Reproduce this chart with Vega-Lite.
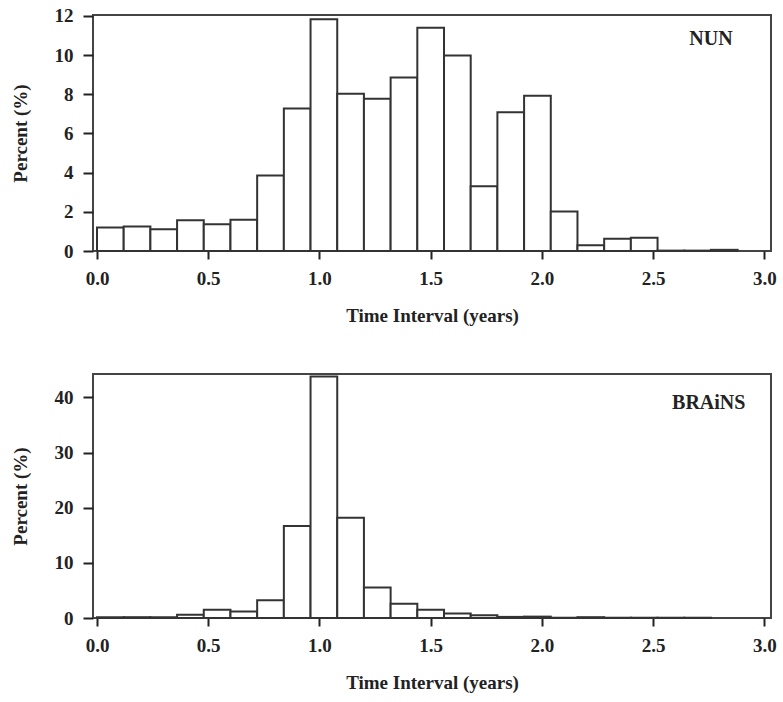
{
  "$schema": "https://vega.github.io/schema/vega-lite/v6.json",
  "background": "white",
  "padding": {"left": 10, "top": 5, "right": 5, "bottom": 5},
  "spacing": 47,
  "datasets": {
    "nun": [
      {"start": 0.00, "end": 0.12, "pct": 1.20},
      {"start": 0.12, "end": 0.24, "pct": 1.25},
      {"start": 0.24, "end": 0.36, "pct": 1.11},
      {"start": 0.36, "end": 0.48, "pct": 1.57},
      {"start": 0.48, "end": 0.60, "pct": 1.37},
      {"start": 0.60, "end": 0.72, "pct": 1.60},
      {"start": 0.72, "end": 0.84, "pct": 3.85},
      {"start": 0.84, "end": 0.96, "pct": 7.27},
      {"start": 0.96, "end": 1.08, "pct": 11.83},
      {"start": 1.08, "end": 1.20, "pct": 8.03},
      {"start": 1.20, "end": 1.32, "pct": 7.78},
      {"start": 1.32, "end": 1.44, "pct": 8.86},
      {"start": 1.44, "end": 1.56, "pct": 11.40},
      {"start": 1.56, "end": 1.68, "pct": 9.98},
      {"start": 1.68, "end": 1.80, "pct": 3.30},
      {"start": 1.80, "end": 1.92, "pct": 7.09},
      {"start": 1.92, "end": 2.04, "pct": 7.93},
      {"start": 2.04, "end": 2.16, "pct": 2.02},
      {"start": 2.16, "end": 2.28, "pct": 0.29},
      {"start": 2.28, "end": 2.40, "pct": 0.63},
      {"start": 2.40, "end": 2.52, "pct": 0.68},
      {"start": 2.52, "end": 2.64, "pct": 0.02},
      {"start": 2.64, "end": 2.76, "pct": 0.02},
      {"start": 2.76, "end": 2.88, "pct": 0.06}
    ],
    "brains": [
      {"start": 0.00, "end": 0.12, "pct": 0.15},
      {"start": 0.12, "end": 0.24, "pct": 0.15},
      {"start": 0.24, "end": 0.36, "pct": 0.15},
      {"start": 0.36, "end": 0.48, "pct": 0.6},
      {"start": 0.48, "end": 0.60, "pct": 1.5},
      {"start": 0.60, "end": 0.72, "pct": 1.2},
      {"start": 0.72, "end": 0.84, "pct": 3.2},
      {"start": 0.84, "end": 0.96, "pct": 16.7},
      {"start": 0.96, "end": 1.08, "pct": 43.8},
      {"start": 1.08, "end": 1.20, "pct": 18.2},
      {"start": 1.20, "end": 1.32, "pct": 5.55},
      {"start": 1.32, "end": 1.44, "pct": 2.6},
      {"start": 1.44, "end": 1.56, "pct": 1.5},
      {"start": 1.56, "end": 1.68, "pct": 0.8},
      {"start": 1.68, "end": 1.80, "pct": 0.5},
      {"start": 1.80, "end": 1.92, "pct": 0.2},
      {"start": 1.92, "end": 2.04, "pct": 0.25},
      {"start": 2.04, "end": 2.16, "pct": 0.05},
      {"start": 2.16, "end": 2.28, "pct": 0.15},
      {"start": 2.28, "end": 2.40, "pct": 0.05},
      {"start": 2.40, "end": 2.52, "pct": 0.05},
      {"start": 2.52, "end": 2.64, "pct": 0.05},
      {"start": 2.64, "end": 2.76, "pct": 0.05}
    ],
    "label_nun": [{"x": 2.76, "y": 10.8, "label": "NUN"}],
    "label_brains": [{"x": 2.75, "y": 39.0, "label": "BRAiNS"}]
  },
  "vconcat": [
    {
      "width": 678,
      "height": 236,
      "layer": [
        {
          "data": {"name": "nun"},
          "mark": {"type": "bar", "fill": "white", "stroke": "#333", "strokeWidth": 2},
          "encoding": {
            "x": {"field": "start", "type": "quantitative",
                  "scale": {"domain": [-0.018, 3.03], "nice": false, "zero": false},
                  "axis": {"title": "Time Interval (years)", "values": [0, 0.5, 1, 1.5, 2, 2.5, 3], "format": ".1f"}},
            "x2": {"field": "end"},
            "y": {"field": "pct", "type": "quantitative",
                  "scale": {"domain": [0, 12.05], "nice": false},
                  "axis": {"title": "Percent (%)", "values": [0, 2, 4, 6, 8, 10, 12]}},
            "y2": {"datum": 0}
          }
        },
        {
          "data": {"name": "label_nun"},
          "mark": {"type": "text", "font": "Liberation Serif", "fontWeight": "bold", "fontSize": 20, "color": "#222", "align": "center", "baseline": "middle"},
          "encoding": {
            "x": {"field": "x", "type": "quantitative",
                  "axis": {"title": "Time Interval (years)", "values": [0, 0.5, 1, 1.5, 2, 2.5, 3], "format": ".1f"}},
            "y": {"field": "y", "type": "quantitative",
                  "axis": {"title": "Percent (%)", "values": [0, 2, 4, 6, 8, 10, 12]}},
            "text": {"field": "label"}
          }
        }
      ]
    },
    {
      "width": 678,
      "height": 244,
      "layer": [
        {
          "data": {"name": "brains"},
          "mark": {"type": "bar", "fill": "white", "stroke": "#333", "strokeWidth": 2},
          "encoding": {
            "x": {"field": "start", "type": "quantitative",
                  "scale": {"domain": [-0.018, 3.03], "nice": false, "zero": false},
                  "axis": {"title": "Time Interval (years)", "values": [0, 0.5, 1, 1.5, 2, 2.5, 3], "format": ".1f"}},
            "x2": {"field": "end"},
            "y": {"field": "pct", "type": "quantitative",
                  "scale": {"domain": [0, 44.26], "nice": false},
                  "axis": {"title": "Percent (%)", "values": [0, 10, 20, 30, 40]}},
            "y2": {"datum": 0}
          }
        },
        {
          "data": {"name": "label_brains"},
          "mark": {"type": "text", "font": "Liberation Serif", "fontWeight": "bold", "fontSize": 20, "color": "#222", "align": "center", "baseline": "middle"},
          "encoding": {
            "x": {"field": "x", "type": "quantitative",
                  "axis": {"title": "Time Interval (years)", "values": [0, 0.5, 1, 1.5, 2, 2.5, 3], "format": ".1f"}},
            "y": {"field": "y", "type": "quantitative",
                  "axis": {"title": "Percent (%)", "values": [0, 10, 20, 30, 40]}},
            "text": {"field": "label"}
          }
        }
      ]
    }
  ],
  "config": {
    "font": "Liberation Serif",
    "view": {"stroke": "#444", "strokeWidth": 2},
    "axis": {
      "domain": false,
      "grid": false,
      "ticks": true,
      "tickColor": "#222",
      "tickWidth": 2,
      "labelFont": "Liberation Serif",
      "labelFontWeight": "bold",
      "labelFontSize": 19,
      "labelColor": "#222",
      "titleFont": "Liberation Serif",
      "titleFontWeight": "bold",
      "titleFontSize": 19,
      "titleColor": "#222"
    },
    "axisX": {"tickSize": 8, "labelPadding": 10, "titlePadding": 18},
    "axisY": {"tickSize": 10, "labelPadding": 10, "titlePadding": 24}
  }
}
